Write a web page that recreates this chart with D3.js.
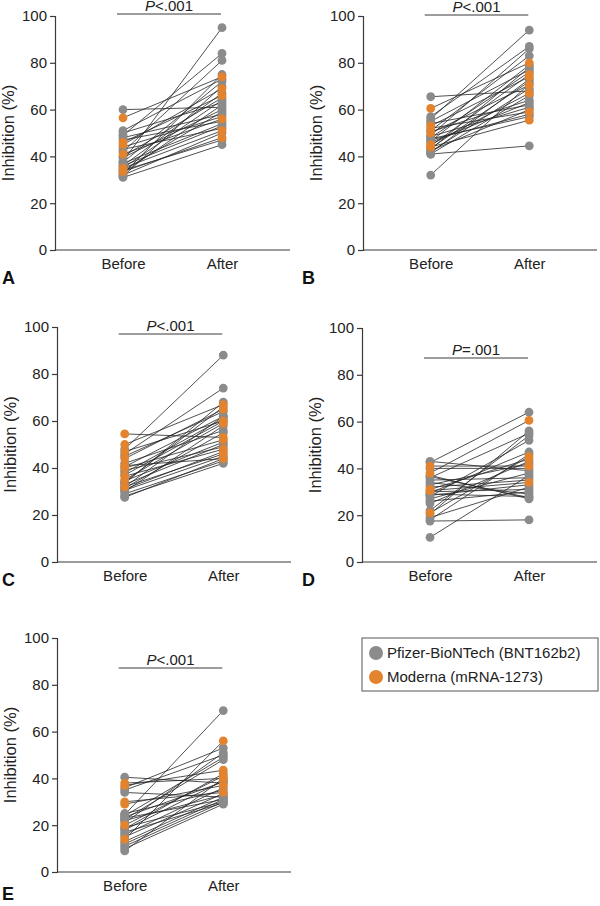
<!DOCTYPE html>
<html><head><meta charset="utf-8">
<script src="https://cdn.jsdelivr.net/npm/d3@7"></script>
<style>body{margin:0;background:#fff}svg{display:block;font-family:Arial,"Liberation Sans",sans-serif}</style>
</head><body>
<svg id="c" width="600" height="906"></svg>
<script>
const timepoints = ["Before", "After"];
const yTicks = [0, 20, 40, 60, 80, 100];
const legendLabels = ["Pfizer-BioNTech (BNT162b2)", "Moderna (mRNA-1273)"];
const vaccineKeys = ["P", "M"];

const pLabels = ["<.001", "<.001", "<.001", "=.001", "<.001"];
const panelLetters = ["A", "B", "C", "D", "E"];

const beforeA = [60,56.5,51,50,49,48,47,45,46,44,43,42,41,40,39.5,38,37.5,37,36,35,35,34,34,33.5,33,32.5,32,31,31.5,36];
const afterA  = [61,74,73,63,84,58,55,69,66,57,52,81,56,65,60,95,72,54,67,51,64,59,47,48,62,75,50,45,70,53];
const vaccineA= ["P","M","P","P","P","P","P","M","M","P","P","P","M","P","P","P","P","P","P","M","P","P","P","M","P","P","P","P","P","P"];

const beforeB = [65.5,60.5,57,56,55,54,53,52,51,50.5,50,49,48.5,48,47,46.5,46,45,44,43.5,43,42.5,42,41.5,41,41,32,44.5,47.5];
const afterB  = [68,80,87,94,77,62,74,59,83,64,70.5,86,61,76,58,79,63,67,55.5,72,78,60,69,73,44.5,66,71,75,57];
const vaccineB= ["P","M","P","P","P","P","M","M","P","P","M","P","P","P","P","P","P","M","M","P","P","P","P","P","P","P","P","M","P"];

const beforeC = [54.5,50,48,47,46,44,42,41,40,40.5,38,36.5,35,34,33,33.5,32,32,31.5,31,30.5,30,29,28,27.5,39,37,34.5,45];
const afterC  = [53,67,88,60,74,65,56,44,52,62,61,48,59,66,50,68,46,62,55,47,45,58,43,42,44,49,60,51,64];
const vaccineC= ["M","M","P","M","P","M","P","M","M","P","P","M","M","P","P","P","M","P","P","P","P","P","P","P","P","P","P","P","P"];

const beforeD = [43,42.5,41,38,37,36,35,34,33,31,32,30,29.5,29,28.5,28,27,26,25,22,21,20.5,19,18,17.5,10.5,30.5,40,36.5];
const afterD  = [39,64,41,60.5,27,55,36,29,42,44,35,31,47,28,33,52,38,30,43,54,45,56,32,46,18,37,34,40,27.5];
const vaccineD= ["P","P","M","M","P","P","P","P","P","M","P","P","P","P","P","P","P","P","P","P","M","P","P","P","P","P","M","P","P"];

const beforeE = [40.5,38,37,36,35,34,30,29,25,24.5,24,23,22.5,22,21,20,19,18.5,18,17,16,14,13,12,11,10,9,23.5,15];
const afterE  = [38,40,43.5,53,50,32,34,37,35,69,49,31,48,33,51,41,30,42,39,29.5,36,56,32,31,30,29,40,38.5,33.5];
const vaccineE= ["P","M","M","P","P","P","M","M","P","P","P","P","P","P","P","M","P","P","P","P","P","M","P","P","P","P","P","P","P"];

const panels = [
  {before: beforeA, after: afterA, vaccine: vaccineA, left: 55, right: 290, top: 16, bottom: 250, barY: 14, letterX: 2, letterY: 284},
  {before: beforeB, after: afterB, vaccine: vaccineB, left: 363, right: 597, top: 16, bottom: 250, barY: 15, letterX: 302, letterY: 284},
  {before: beforeC, after: afterC, vaccine: vaccineC, left: 57, right: 291, top: 327, bottom: 562, barY: 334, letterX: 2, letterY: 586},
  {before: beforeD, after: afterD, vaccine: vaccineD, left: 362, right: 597, top: 328, bottom: 562, barY: 358, letterX: 302, letterY: 586},
  {before: beforeE, after: afterE, vaccine: vaccineE, left: 57, right: 291, top: 638, bottom: 872, barY: 668, letterX: 2, letterY: 900}
];

const color = d3.scaleOrdinal().domain(vaccineKeys).range(["#8b8b8b", "#e3832d"]);
const svg = d3.select("#c");
const axisColor = "#3a3a3a";

panels.forEach((p, i) => {
  const g = svg.append("g");
  const x = d3.scalePoint().domain(timepoints).range([p.left, p.right]).padding(0.687);
  const y = d3.scaleLinear().domain([0, 100]).range([p.bottom, p.top]);

  const yAxis = g.append("g").attr("transform", `translate(${p.left},0)`)
    .call(d3.axisLeft(y).tickValues(yTicks).tickSize(5).tickPadding(3));
  const xAxis = g.append("g").attr("transform", `translate(0,${p.bottom})`)
    .call(d3.axisBottom(x).tickSize(0).tickPadding(8));
  [yAxis, xAxis].forEach(a => {
    a.select(".domain").attr("stroke", axisColor).attr("stroke-width", 1.2);
    a.selectAll(".tick line").attr("stroke", axisColor).attr("stroke-width", 1.2);
    a.selectAll("text").attr("fill", "#222").style("font-size", "15px").style("font-family", "Arial, 'Liberation Sans', sans-serif");
  });
  xAxis.select(".domain").attr("d", `M${p.left},0H${p.right}`);

  g.append("text").attr("transform", `translate(${p.left - 41},${(p.top + p.bottom) / 2}) rotate(-90)`)
    .attr("text-anchor", "middle").attr("fill", "#222").style("font-size", "16.5px").text("Inhibition (%)");

  const pairs = p.before.map((b, k) => ({b, a: p.after[k], v: p.vaccine[k]}));
  g.append("g").selectAll("line").data(pairs).join("line")
    .attr("x1", x("Before")).attr("x2", x("After"))
    .attr("y1", d => y(d.b)).attr("y2", d => y(d.a))
    .attr("stroke", "#262626").attr("stroke-width", 0.85).attr("stroke-opacity", 0.95);

  const pts = [];
  pairs.forEach(d => { pts.push({t: "Before", val: d.b, v: d.v}); pts.push({t: "After", val: d.a, v: d.v}); });
  pts.sort((m, n) => (m.v === "M") - (n.v === "M"));
  g.append("g").selectAll("circle").data(pts).join("circle")
    .attr("cx", d => x(d.t)).attr("cy", d => y(d.val)).attr("r", 4.4)
    .attr("fill", d => color(d.v));

  const bx1 = x("Before") - 6, bx2 = x("After") - 1;
  g.append("line").attr("x1", bx1).attr("x2", bx2).attr("y1", p.barY).attr("y2", p.barY)
    .attr("stroke", axisColor).attr("stroke-width", 1);
  const t = g.append("text").attr("x", (bx1 + bx2) / 2).attr("y", p.barY - 3)
    .attr("text-anchor", "middle").attr("fill", "#222").style("font-size", "15px");
  t.append("tspan").style("font-style", "italic").text("P");
  t.append("tspan").text(pLabels[i]);

  g.append("text").attr("x", p.letterX).attr("y", p.letterY).attr("fill", "#111")
    .style("font-size", "18px").style("font-weight", "bold").text(panelLetters[i]);
});

// legend
const lg = svg.append("g");
lg.append("rect").attr("x", 362).attr("y", 638).attr("width", 236).attr("height", 53)
  .attr("fill", "none").attr("stroke", "#555").attr("stroke-width", 1);
legendLabels.forEach((lab, k) => {
  const cy = 653 + k * 24;
  lg.append("circle").attr("cx", 376).attr("cy", cy).attr("r", 7).attr("fill", color(vaccineKeys[k]));
  lg.append("text").attr("x", 387).attr("y", cy + 5).attr("fill", "#222").style("font-size", "15px").text(lab);
});
</script>
</body></html>
